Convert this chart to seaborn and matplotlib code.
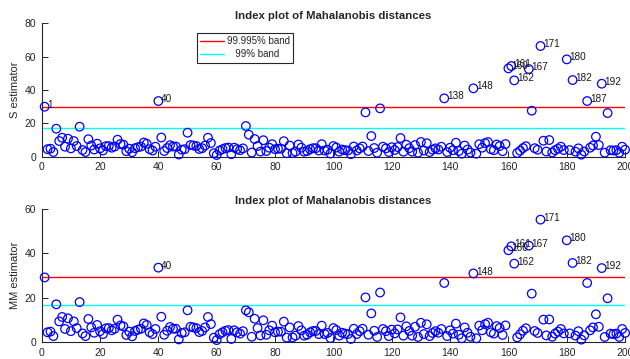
import numpy as np
import pandas as pd
import matplotlib
matplotlib.use("Agg")
import matplotlib.pyplot as plt
import seaborn as sns

# Unit index and robust Mahalanobis distances for the two estimators
unit = np.arange(1, 201)

md_s = [
    30.0, 4.5, 4.8, 2.8, 16.8, 9.4, 11.4, 6.0, 10.8, 5.0,
    9.4, 6.4, 18.0, 4.0, 2.8, 10.5, 6.7, 4.3, 7.8, 5.0,
    3.7, 6.3, 6.4, 5.4, 6.1, 10.2, 7.6, 7.2, 3.3, 4.8,
    2.7, 5.1, 5.7, 6.1, 8.5, 7.8, 4.5, 3.7, 6.0, 33.4,
    11.5, 3.4, 5.2, 6.9, 6.1, 6.1, 1.3, 4.2, 4.5, 14.4,
    7.0, 6.7, 6.4, 4.6, 5.1, 6.7, 11.4, 8.2, 2.1, 1.0,
    3.7, 4.5, 5.2, 5.5, 1.5, 5.4, 4.5, 3.9, 5.0, 18.4,
    13.2, 2.5, 10.6, 6.4, 3.1, 9.9, 3.4, 5.4, 7.5, 4.5,
    4.8, 4.8, 9.3, 2.1, 6.7, 2.2, 3.0, 7.3, 5.4, 3.0,
    3.4, 4.5, 5.1, 5.1, 3.7, 7.5, 3.7, 4.2, 1.9, 6.4,
    5.5, 3.0, 4.3, 3.9, 3.7, 1.5, 6.1, 3.7, 5.0, 6.1,
    26.6, 3.4, 12.4, 5.2, 2.4, 29.0, 6.0, 5.0, 2.8, 5.7,
    4.0, 5.8, 11.2, 3.0, 7.2, 5.1, 3.0, 7.0, 2.4, 8.8,
    3.7, 8.1, 2.8, 4.2, 5.0, 4.3, 6.0, 35.0, 2.8, 5.4,
    3.9, 8.4, 3.4, 1.8, 6.7, 4.3, 2.5, 41.0, 1.8, 7.5,
    5.4, 8.2, 8.8, 4.5, 3.9, 7.3, 6.4, 3.3, 7.6, 53.0,
    54.4, 45.8, 2.2, 3.6, 5.2, 6.3, 52.6, 27.6, 5.1, 4.2,
    66.4, 9.6, 3.1, 10.0, 2.5, 3.9, 4.8, 6.0, 4.0, 58.4,
    4.0, 46.0, 3.0, 5.0, 1.2, 3.1, 33.4, 5.4, 6.7, 12.0,
    7.0, 43.8, 2.4, 26.2, 3.9, 3.7, 3.9, 2.4, 6.0, 4.2,
]

md_mm = [
    29.2, 4.5, 4.8, 2.8, 17.1, 9.4, 11.4, 6.0, 10.8, 5.0,
    9.4, 6.4, 18.1, 4.0, 2.8, 10.5, 6.7, 4.3, 7.8, 5.0,
    3.7, 6.3, 6.4, 5.4, 6.1, 10.2, 7.6, 7.2, 3.3, 4.8,
    2.7, 5.1, 5.7, 6.1, 8.5, 7.8, 4.5, 3.7, 6.0, 33.6,
    11.5, 3.4, 5.2, 6.9, 6.1, 6.1, 1.3, 4.2, 4.5, 14.4,
    7.0, 6.7, 6.4, 4.6, 5.1, 6.7, 11.4, 8.2, 2.1, 1.0,
    3.7, 4.5, 5.2, 5.5, 1.5, 5.4, 4.5, 3.9, 5.0, 14.4,
    13.5, 2.5, 10.6, 6.4, 3.1, 9.9, 3.4, 5.4, 7.5, 4.5,
    4.8, 4.8, 9.3, 2.1, 6.7, 2.2, 3.0, 7.3, 5.4, 3.0,
    3.4, 4.5, 5.1, 5.1, 3.7, 7.5, 3.7, 4.2, 1.9, 6.4,
    5.5, 3.0, 4.3, 3.9, 3.7, 1.5, 6.1, 3.7, 5.0, 6.1,
    20.2, 3.4, 13.0, 5.2, 2.4, 22.4, 6.0, 5.0, 2.8, 5.7,
    4.0, 5.8, 11.2, 3.0, 7.2, 5.1, 3.0, 7.0, 2.4, 8.8,
    3.7, 8.1, 2.8, 4.2, 5.0, 4.3, 6.0, 26.7, 2.8, 5.4,
    3.9, 8.4, 3.4, 1.8, 6.7, 4.3, 2.5, 31.0, 1.8, 7.5,
    5.4, 8.2, 8.8, 4.5, 3.9, 7.3, 6.4, 3.3, 7.6, 41.4,
    43.2, 35.4, 2.2, 3.6, 5.2, 6.3, 43.5, 21.9, 5.1, 4.2,
    55.2, 10.2, 3.1, 10.3, 2.5, 3.9, 4.8, 6.0, 4.0, 45.9,
    4.0, 35.7, 3.0, 5.0, 1.2, 3.1, 26.7, 5.4, 6.7, 12.6,
    7.0, 33.4, 2.4, 19.8, 3.9, 3.7, 3.9, 2.4, 6.0, 4.2,
]

# Envelope levels: [99.995%, 99%]
band_labels = ["99.995% band", "   99% band"]
s_bands = [29.6, 17.0]
mm_bands = [29.5, 16.9]

x_ticks = [0, 20, 40, 60, 80, 100, 120, 140, 160, 180, 200]
s_ticks = [0, 20, 40, 60, 80]
mm_ticks = [0, 20, 40, 60]

title = "Index plot of Mahalanobis distances"

sns.set_style("ticks")
plt.rcParams["font.family"] = ["Liberation Sans", "DejaVu Sans"]

AX_COL = "#262626"

fig = plt.figure(figsize=(6.3, 3.59), dpi=100)
ax_top = fig.add_axes([0.0662, 0.5635, 0.926, 0.3714])
ax_bot = fig.add_axes([0.0662, 0.0465, 0.926, 0.3714])


def draw_panel(ax, values, bands, ylabel, yticks, show_legend):
    df = pd.DataFrame({"unit": unit, "md": values})
    ax.axhline(bands[0], color="#ff0000", lw=1.0, label=band_labels[0], zorder=2)
    ax.axhline(bands[1], color="#00ffff", lw=1.0, label=band_labels[1], zorder=2)
    sns.scatterplot(data=df, x="unit", y="md", ax=ax, marker="o", s=38,
                    facecolors="none", edgecolor="#0000ff", linewidth=0.9,
                    legend=False, zorder=3, clip_on=False)
    for u, v in zip(unit, values):
        if v > bands[0]:
            ax.annotate(str(u), (u, v), xytext=(2.0, -0.8),
                        textcoords="offset points", ha="left", va="baseline",
                        fontsize=7.2, color="#1a1a1a")
    ax.set_xlim(0, 200)
    ax.set_ylim(yticks[0], yticks[-1])
    ax.set_xticks(x_ticks)
    ax.set_yticks(yticks)
    ax.set_xlabel("")
    ax.set_ylabel(ylabel, fontsize=8, color=AX_COL, labelpad=3)
    ax.set_title(title, fontsize=8.2, fontweight="bold", pad=3.5)
    sns.despine(ax=ax)
    for side in ("left", "bottom"):
        ax.spines[side].set_color(AX_COL)
        ax.spines[side].set_linewidth(0.8)
    ax.tick_params(direction="in", length=4, width=0.7, color=AX_COL,
                   labelsize=7.5, labelcolor=AX_COL, pad=4)
    if show_legend:
        leg = ax.legend(loc="upper left", bbox_to_anchor=(0.266, 0.928),
                        borderaxespad=0, fontsize=7, frameon=True,
                        fancybox=False, borderpad=0.35, handlelength=2.4,
                        handletextpad=0.35, labelspacing=0.3)
        leg.get_frame().set_edgecolor(AX_COL)
        leg.get_frame().set_linewidth(0.8)
        leg.get_frame().set_alpha(1)


draw_panel(ax_top, md_s, s_bands, "S estimator", s_ticks, True)
draw_panel(ax_bot, md_mm, mm_bands, "MM estimator", mm_ticks, False)

fig.savefig("out.png", dpi=100)
